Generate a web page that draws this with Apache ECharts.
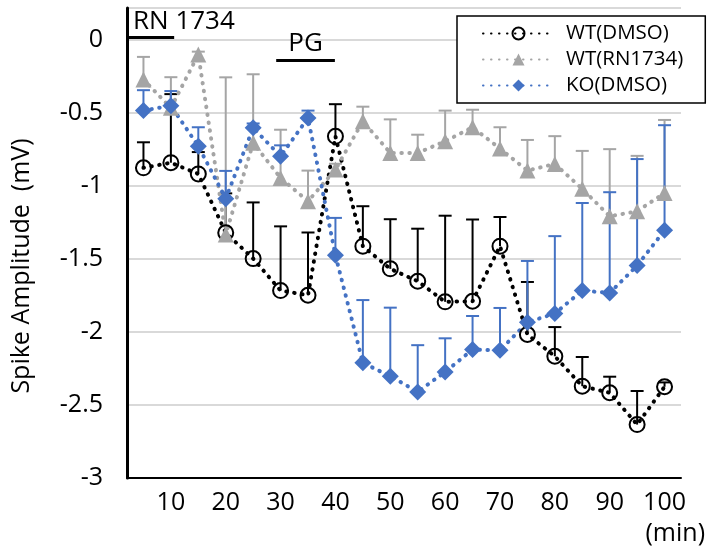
<!DOCTYPE html>
<html>
<head>
<meta charset="utf-8">
<script src="https://cdn.jsdelivr.net/npm/echarts@6/dist/echarts.min.js"></script>
<style>
  html, body { margin: 0; padding: 0; background: #fff; }
  #main { width: 707px; height: 552px; }
</style>
</head>
<body>
<div id="main"></div>
<script>
// time points (min)
const times = [5, 10, 15, 20, 25, 30, 35, 40, 45, 50, 55, 60, 65, 70, 75, 80, 85, 90, 95, 100];
const xTickLabels = [10, 20, 30, 40, 50, 60, 70, 80, 90, 100];
const yTickLabels = [0, -0.5, -1, -1.5, -2, -2.5, -3];

const names = ['WT(DMSO)', 'WT(RN1734)', 'KO(DMSO)'];

// spike amplitude (mV) and one-sided error (upwards)
const wtDmso = [-0.875, -0.84, -0.917, -1.32, -1.497, -1.716, -1.748, -0.659, -1.412, -1.567,
  -1.652, -1.793, -1.789, -1.412, -2.017, -2.166, -2.371, -2.416, -2.634, -2.375];
const wtDmsoErr = [0.175, 0.47, 0.15, 0.27, 0.385, 0.44, 0.43, 0.22, 0.274, 0.34,
  0.36, 0.59, 0.56, 0.2, 0.36, 0.2, 0.2, 0.11, 0.23, 0.03];

const wtRn = [-0.27, -0.464, -0.099, -1.332, -0.704, -0.944, -1.104, -0.887, -0.556, -0.773,
  -0.773, -0.693, -0.597, -0.743, -0.894, -0.848, -1.019, -1.207, -1.173, -1.047];
const wtRnErr = [0.155, 0.21, 0.02, 1.077, 0.47, 0.33, 0.21, 0.04, 0.1, 0.23,
  0.125, 0.21, 0.12, 0.146, 0.21, 0.19, 0.26, 0.46, 0.38, 0.5];

const koDmso = [-0.483, -0.449, -0.727, -1.086, -0.601, -0.796, -0.533, -1.474, -2.211, -2.303,
  -2.41, -2.273, -2.12, -2.125, -1.933, -1.873, -1.716, -1.732, -1.545, -1.303];
const koErr = [0.14, 0.1, 0.13, 0.19, 0.03, 0.075, 0.05, 0.256, 0.43, 0.47,
  0.32, 0.23, 0.23, 0.29, 0.42, 0.53, 0.6, 0.69, 0.73, 0.72];

// drug application bars (min) and the level they sit at (mV)
const rnBar = [2, 10.6];
const rnLevel = 0.02;
const pgBar = [29.2, 39.9];
const pgLevel = -0.14;

const font = 'Open Sans';
const black = '#000';
const gray = '#a5a5a5';
const blue = '#4472c4';

function pairs(vals) {
  return times.map((t, i) => [t, vals[i]]);
}
function errRows(vals, errs) {
  return times.map((t, i) => [t, vals[i], vals[i] + errs[i]]);
}
function errorBars(color) {
  return function (params, api) {
    const x = api.value(0);
    const p0 = api.coord([x, api.value(1)]);
    const p1 = api.coord([x, api.value(2)]);
    const half = 6.5;
    return {
      type: 'group',
      children: [
        { type: 'line', shape: { x1: p0[0], y1: p0[1], x2: p1[0], y2: p1[1] },
          style: { stroke: color, lineWidth: 2 } },
        { type: 'line', shape: { x1: p1[0] - half, y1: p1[1], x2: p1[0] + half, y2: p1[1] },
          style: { stroke: color, lineWidth: 2 } }
      ]
    };
  };
}
function dotted(color) {
  return { color: color, width: 4, type: [0.5, 7.5], cap: 'round' };
}

const chart = echarts.init(document.getElementById('main'));
chart.setOption({
  animation: false,
  grid: { left: 127, right: 26, top: 8, bottom: 74, outerBoundsMode: 'none' },
  legend: {
    data: names,
    orient: 'vertical',
    left: 457,
    top: 16,
    padding: [7, 22, 7, 25],
    itemWidth: 71,
    itemHeight: 15,
    itemGap: 5,
    backgroundColor: '#fff',
    borderColor: black,
    borderWidth: 1.5,
    textStyle: { fontSize: 20.5, color: black, fontFamily: font, padding: [0, 0, 0, 7] }
  },
  xAxis: {
    type: 'value',
    min: 2,
    max: 103,
    axisLine: { onZero: false, lineStyle: { color: black, width: 2 } },
    axisTick: { show: false },
    splitLine: { show: false },
    axisLabel: {
      customValues: xTickLabels,
      margin: 12,
      fontSize: 25,
      color: black,
      fontFamily: font
    }
  },
  yAxis: {
    type: 'value',
    min: -3,
    max: 0.22,
    interval: 0.5,
    axisLine: { show: true, onZero: false, lineStyle: { color: black, width: 3 } },
    axisTick: { show: false },
    splitLine: { lineStyle: { color: '#d9d9d9', width: 2 } },
    axisLabel: {
      customValues: yTickLabels,
      margin: 24,
      fontSize: 25,
      color: black,
      fontFamily: font
    }
  },
  graphic: [
    {
      type: 'text',
      x: 22, y: 266, rotation: Math.PI / 2,
      style: { text: 'Spike Amplitude  (mV)', fontSize: 25, fontFamily: font, fill: black,
        align: 'center', verticalAlign: 'middle' }
    },
    {
      type: 'text',
      x: 705, y: 534,
      style: { text: '(min)', fontSize: 25, fontFamily: font, fill: black,
        align: 'right', verticalAlign: 'middle' }
    }
  ],
  series: [
    {
      type: 'custom',
      name: 'errWT',
      renderItem: errorBars(black),
      data: errRows(wtDmso, wtDmsoErr),
      encode: { x: 0, y: [1, 2] },
      silent: true
    },
    {
      type: 'line',
      name: names[0],
      data: pairs(wtDmso),
      symbol: 'circle',
      symbolSize: 15,
      lineStyle: dotted(black),
      itemStyle: { color: 'rgba(0,0,0,0)', borderColor: black, borderWidth: 2 },
      markLine: {
        silent: true,
        symbol: 'none',
        lineStyle: { color: black, width: 3, type: 'solid' },
        label: { color: black, fontSize: 26, fontFamily: font },
        data: [
          [
            { coord: [rnBar[0], rnLevel], label: { formatter: 'RN 1734', position: 'insideStartTop', distance: [6, 3] } },
            { coord: [rnBar[1], rnLevel] }
          ],
          [
            { coord: [pgBar[0], pgLevel], label: { formatter: 'PG', position: 'insideMiddleTop', distance: 4 } },
            { coord: [pgBar[1], pgLevel] }
          ]
        ]
      }
    },
    {
      type: 'custom',
      name: 'errRN',
      renderItem: errorBars(gray),
      data: errRows(wtRn, wtRnErr),
      encode: { x: 0, y: [1, 2] },
      silent: true
    },
    {
      type: 'line',
      name: names[1],
      data: pairs(wtRn),
      symbol: 'triangle',
      symbolSize: 16,
      lineStyle: dotted(gray),
      itemStyle: { color: gray }
    },
    {
      type: 'custom',
      name: 'errKO',
      renderItem: errorBars(blue),
      data: errRows(koDmso, koErr),
      encode: { x: 0, y: [1, 2] },
      silent: true
    },
    {
      type: 'line',
      name: names[2],
      data: pairs(koDmso),
      symbol: 'diamond',
      symbolSize: 17,
      lineStyle: dotted(blue),
      itemStyle: { color: blue }
    }
  ]
});
</script>
</body>
</html>
